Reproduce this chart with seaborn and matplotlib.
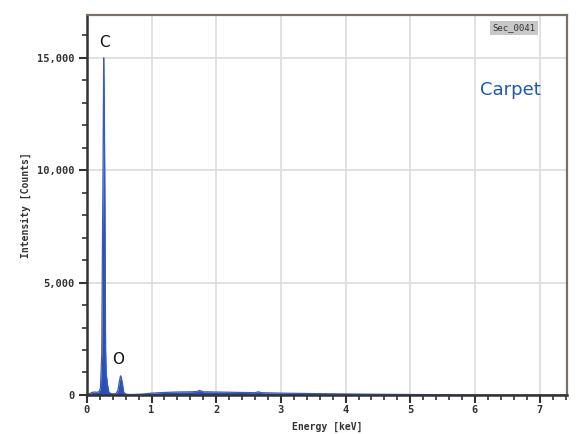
import numpy as np
import pandas as pd
import matplotlib
matplotlib.use("Agg")
import matplotlib.pyplot as plt
from matplotlib.ticker import MultipleLocator, FuncFormatter
import seaborn as sns

# EDS spectrum (energy in keV, intensity in counts)
energy = [0.00, 0.04, 0.08, 0.12, 0.16, 0.19, 0.21, 0.23, 0.24, 0.25, 0.26, 0.27,
          0.28, 0.29, 0.30, 0.31, 0.32, 0.34, 0.37, 0.41, 0.45, 0.48, 0.50, 0.52,
          0.53, 0.55, 0.57, 0.60, 0.65, 0.70, 0.80, 0.90, 1.00, 1.20, 1.40, 1.60,
          1.70, 1.74, 1.80, 2.00, 2.20, 2.40, 2.60, 2.65, 2.70, 3.00, 3.50, 4.00,
          4.50, 5.00, 5.50, 5.80, 6.00, 7.00, 7.40]
counts = [0, 60, 110, 130, 120, 150, 300, 1800, 6200, 10000, 15000, 12600,
          8200, 2000, 900, 700, 450, 120, 60, 50, 60, 200, 550, 850,
          800, 500, 120, 40, 20, 20, 30, 50, 80, 110, 130, 140,
          150, 200, 140, 130, 120, 110, 100, 140, 100, 80, 60, 45,
          30, 20, 10, 5, 0, 0, 0]

peak_labels = ["C", "O"]
peak_pos = [(0.27, 15700), (0.49, 1560)]

xticks = [0, 1, 2, 3, 4, 5, 6, 7]
yticks = [0, 5000, 10000, 15000]

df = pd.DataFrame({"Energy": energy, "Counts": counts})

sns.set_style("white")
fig = plt.figure(figsize=(5.79, 4.34), dpi=100)
ax = fig.add_axes([0.150, 0.090, 0.829, 0.875])

ax.fill_between(df["Energy"], df["Counts"], color="#2c4fb3", linewidth=0)
sns.lineplot(data=df, x="Energy", y="Counts", ax=ax, color="#3a5cc0", linewidth=0.9)

ax.set_xlim(0, 7.42)
ax.set_ylim(0, 16900)
ax.set_xticks(xticks)
ax.set_yticks(yticks)
ax.xaxis.set_minor_locator(MultipleLocator(0.2))
ax.yaxis.set_minor_locator(MultipleLocator(1000))
ax.yaxis.set_major_formatter(FuncFormatter(lambda v, p: "{:,.0f}".format(v)))

ax.grid(True, which="major", color="#dcdcdc", linewidth=1.2)
ax.set_axisbelow(True)

ax.tick_params(axis="both", which="both", bottom=True, left=True, top=False, right=False)
ax.tick_params(axis="both", which="major", direction="out", length=6, width=1.5,
               color="#333333", labelsize=7.5, labelcolor="#333333", pad=3)
ax.tick_params(axis="x", which="major", pad=1)
ax.tick_params(axis="both", which="minor", direction="out", length=3.5, width=1.2,
               color="#333333")
for lab in ax.get_xticklabels() + ax.get_yticklabels():
    lab.set_family("DejaVu Sans Mono")
    lab.set_fontweight("bold")

for side in ["left", "bottom"]:
    ax.spines[side].set_color("#333333")
    ax.spines[side].set_linewidth(1.8)
for side in ["top", "right"]:
    ax.spines[side].set_color("#7a706a")
    ax.spines[side].set_linewidth(1.6)

ax.set_xlabel("Energy [keV]", fontsize=7, family="DejaVu Sans Mono",
              fontweight="bold", color="#333333", labelpad=5)
ax.set_ylabel("Intensity [Counts]", fontsize=7, family="DejaVu Sans Mono",
              fontweight="bold", color="#333333", labelpad=4)

for lab, (x, y) in zip(peak_labels, peak_pos):
    ax.text(x, y, lab, fontsize=11, ha="center", va="center", color="#111111")

ax.text(0.883, 0.803, "Carpet", transform=ax.transAxes, fontsize=13,
        color="#1f5aa8", ha="center", va="center")
ax.text(0.89, 0.966, "Sec_0041", transform=ax.transAxes, fontsize=6.5,
        family="DejaVu Sans Mono", color="#333333", ha="center", va="center",
        bbox=dict(boxstyle="square,pad=0.3", fc="#c8c8c8", ec="none"))

fig.savefig("out.png", dpi=100)
